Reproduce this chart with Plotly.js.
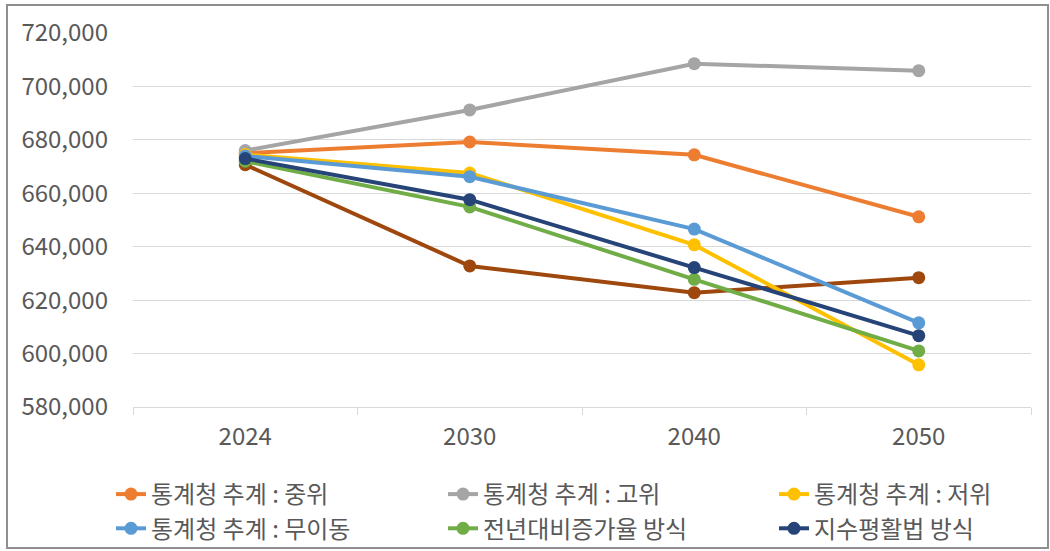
<!DOCTYPE html>
<html>
<head>
<meta charset="utf-8">
<script src="https://cdn.plot.ly/plotly-3.0.1.min.js"></script>
<style>
html,body{margin:0;padding:0;background:#fff;}
#chart{width:1050px;height:551px;}
</style>
</head>
<body>
<div id="chart"></div>
<script>
const years = ["2024", "2030", "2040", "2050"];
const seriesNames = ["통계청 추계 : 중위", "통계청 추계 : 고위", "통계청 추계 : 저위", "통계청 추계 : 무이동", "전년대비증가율 방식", "지수평활법 방식", "기타 방식"];
const medianVals   = [675000, 679200, 674400, 651200];
const highVals     = [676000, 691200, 708500, 705900];
const lowVals      = [674500, 667600, 640700, 595800];
const noMoveVals   = [674000, 666200, 646600, 611500];
const growthVals   = [672000, 654900, 627800, 601000];
const smoothVals   = [673000, 657600, 632200, 606700];
const otherVals    = [670700, 632800, 622800, 628400];
const seriesColors = ["#ED7D31", "#A5A5A5", "#FFC000", "#5B9BD5", "#70AD47", "#264478", "#9E480E"];

const allVals = [medianVals, highVals, lowVals, noMoveVals, growthVals, smoothVals, otherVals];
const legendOf = ["legend", "legend2", "legend3", "legend", "legend2", "legend3", "legend"];
const order = [6, 0, 1, 2, 3, 4, 5];
const traces = order.map(i => ({
  type: "scatter",
  mode: "lines+markers",
  x: years,
  y: allVals[i],
  name: seriesNames[i],
  showlegend: i !== 6,
  legend: legendOf[i],
  line: {color: seriesColors[i], width: 4},
  marker: {color: seriesColors[i], size: 13},
  legendrank: i
}));

const L = 133, R = 19, T = 33, B = 144;
const W = 1050 - L - R, H = 551 - T - B;
const px = v => (v - L) / W;
const py = v => (551 - B - v) / H;

const legendBase = (xpx) => ({
  orientation: "v",
  x: px(xpx), y: py(472), xanchor: "left", yanchor: "top",
  font: {size: 24, color: "#595959"},
  traceorder: "normal",
  tracegroupgap: 0,
  bgcolor: "rgba(0,0,0,0)"
});

const layout = {
  width: 1050, height: 551,
  margin: {l: L, r: R, t: T, b: B, pad: 0, autoexpand: false},
  paper_bgcolor: "#ffffff",
  plot_bgcolor: "#ffffff",
  font: {family: "'Noto Sans CJK KR', 'Noto Sans', sans-serif", color: "#595959", size: 24},
  showlegend: true,
  legend: legendBase(111),
  legend2: legendBase(443),
  legend3: legendBase(774),
  xaxis: {
    type: "category",
    range: [-0.5, 3.5],
    showgrid: false,
    showline: true, linecolor: "#d9d9d9", linewidth: 1,
    ticks: "outside", tickson: "boundaries", ticklen: 7, tickcolor: "#d9d9d9",
    ticklabelstandoff: 8,
    tickfont: {size: 24, color: "#595959"},
    fixedrange: true
  },
  yaxis: {
    range: [580000, 720000],
    dtick: 20000, tick0: 580000,
    tickformat: ",d",
    showgrid: true, gridcolor: "#d9d9d9", gridwidth: 1,
    zeroline: false, showline: false,
    ticks: "", ticklabelstandoff: 24,
    tickfont: {size: 24, color: "#595959"},
    fixedrange: true
  },
  shapes: [{
    type: "rect", xref: "paper", yref: "paper",
    x0: px(7), x1: px(1048), y0: py(548), y1: py(5),
    line: {color: "#8f8f8f", width: 2}, fillcolor: "rgba(0,0,0,0)", layer: "below"
  }]
};

Plotly.newPlot("chart", traces, layout, {displayModeBar: false, staticPlot: true});
</script>
</body>
</html>
